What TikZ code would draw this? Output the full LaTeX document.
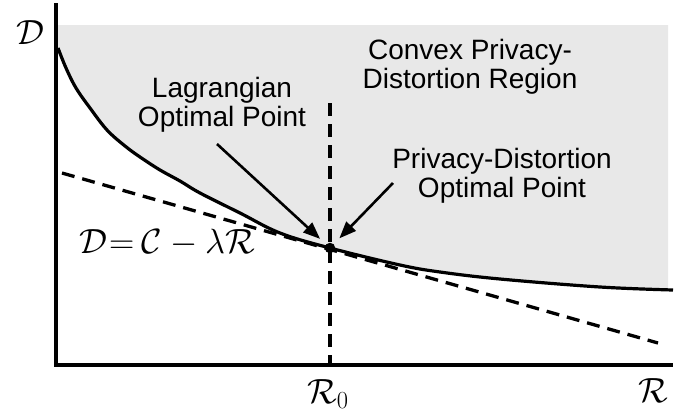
\RequirePackage{fix-cm}
\documentclass[tikz,border=0pt]{standalone}
\usepackage{fontspec}
\setmainfont{Liberation Sans}
\usetikzlibrary{arrows.meta}
\definecolor{regiongray}{RGB}{232,232,232}
\begin{document}
\begin{tikzpicture}[x=1pt,y=-1pt,
  axis/.style={line width=3.3pt},
  curveline/.style={line width=3.2pt},
  dashline/.style={line width=3.3pt, dash pattern=on 13pt off 8pt},
  lbl/.style={font=\fontsize{28}{29.5}\selectfont, align=center, inner sep=0pt},
  mathlbl/.style={font=\fontsize{35}{40}\selectfont, inner sep=0pt},
  pointer/.style={line width=2.6pt, -{Triangle[length=17pt,width=13pt]}, shorten >=8pt}
]
\useasboundingbox (0,0) rectangle (691,416);
% shaded region
\begin{scope}
\clip (58,20) rectangle (668,400);
\fill[regiongray] plot[smooth, tension=0.6] coordinates {(58,48) (66,68) (76,88) (90,108) (107,130) (125,146) (140,157) (160,170) (180,181) (200,193) (240,213) (280,233) (330,248) (400,265) (440,272) (500,279) (600,287) (673,290)} -- (673,25) -- (58,25) -- cycle;
\end{scope}
% boundary curve
\draw[curveline] plot[smooth, tension=0.6] coordinates {(58,48) (66,68) (76,88) (90,108) (107,130) (125,146) (140,157) (160,170) (180,181) (200,193) (240,213) (280,233) (330,248) (400,265) (440,272) (500,279) (600,287) (673,290)};
% axes
\coordinate (ytop) at (56,3);
\coordinate (orig) at (56,365);
\coordinate (xend) at (673,365);
\draw[axis] (ytop) -- (orig) -- (xend);
% vertical dashed line
\coordinate (vtop) at (330,103);
\coordinate (vbot) at (330,365);
\draw[dashline] (vtop) -- (vbot);
% tangent line
\coordinate (tl) at (62,173);
\coordinate (tr) at (658,343);
\draw[dashline] (tl) -- (tr);
% optimal point
\node[circle, fill=black, inner sep=0pt, minimum size=10.5pt] (opt) at (330,248) {};
% labels
\node[mathlbl] (dlab) at (30,33) {$\mathcal{D}$};
\node[mathlbl] (rlab) at (653,391) {$\mathcal{R}$};
\node[mathlbl] (rzlab) at (328,394) {$\mathcal{R}_0$};
\node[mathlbl] (eq) at (167,243) {$\mathcal{D}\mskip1mu{=}\mskip4mu\mathcal{C}-\lambda\mathcal{R}$};
\node[lbl] (region) at (470,67) {Convex Privacy-\\Distortion Region};
\node[lbl] (lag) at (222,105) {Lagrangian\\Optimal Point};
\node[lbl] (pdo) at (502,176) {Privacy-Distortion\\Optimal Point};
% arrows
\coordinate (lagtail) at (217,144);
\coordinate (pdotail) at (393,183);
\draw[pointer] (lagtail) -- (opt);
\draw[pointer] (pdotail) -- (opt);
\end{tikzpicture}
\end{document}
